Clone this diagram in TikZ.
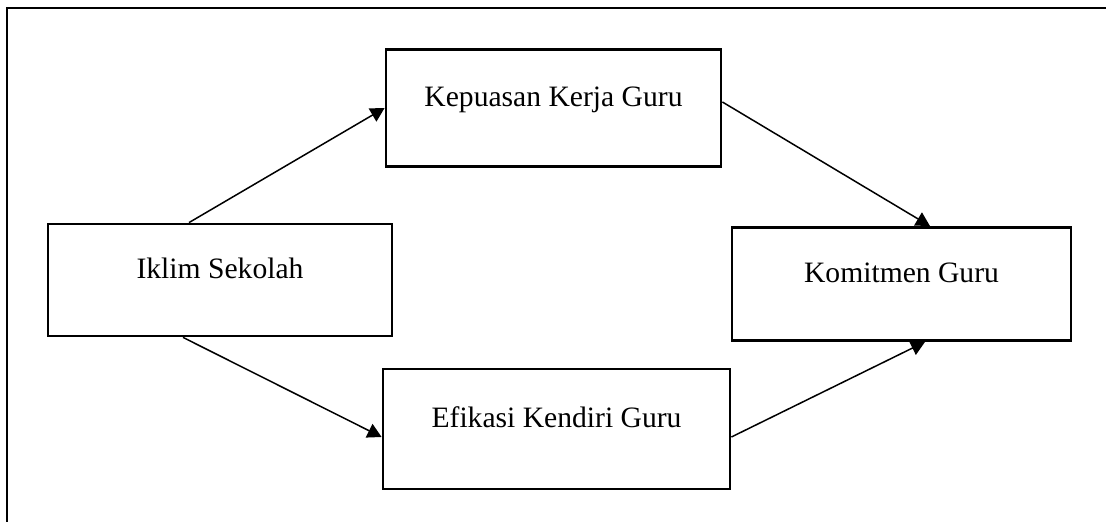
\documentclass[tikz,border=0pt]{standalone}
\usepackage{fontspec}
\setmainfont{Liberation Serif}
\usetikzlibrary{arrows.meta}
\begin{document}
\begin{tikzpicture}[x=0.5pt,y=-0.5pt,
        box/.style={draw,line width=1.4pt,inner sep=0pt,
            font=\fontsize{14.8}{17}\selectfont,text height=10pt,text depth=11pt},
        link/.style={line width=0.75pt,-{Triangle[length=7pt,width=7.5pt]}}]
            \useasboundingbox (0,0) rectangle (1106,522);
            % outline
            \draw[line width=1pt] (1106,8) -- (7,8) -- (7,522);
            \node[box,minimum width=172pt,minimum height=56pt] (iklim) at (220,280) {Iklim Sekolah};
            \node[box,minimum width=167.5pt,minimum height=58.5pt] (kepuasan) at (553.5,108) {Kepuasan Kerja Guru};
            \node[box,minimum width=173.5pt,minimum height=60pt] (efikasi) at (556.5,429) {Efikasi Kendiri Guru};
            \node[box,minimum width=169.5pt,minimum height=56.5pt] (komitmen) at (901.5,284) {Komitmen Guru};
            % paths
            \draw[link] ([xshift=-15.5pt]iklim.north) -- (kepuasan.west);
            \draw[link] ([xshift=-18.5pt]iklim.south) -- ([yshift=-4pt]efikasi.west);
            \draw[link] ([yshift=3pt]kepuasan.east) -- ([xshift=14.25pt]komitmen.north);
            \draw[link] ([yshift=-4pt]efikasi.east) -- ([xshift=11.75pt]komitmen.south);
        \end{tikzpicture}
\end{document}
